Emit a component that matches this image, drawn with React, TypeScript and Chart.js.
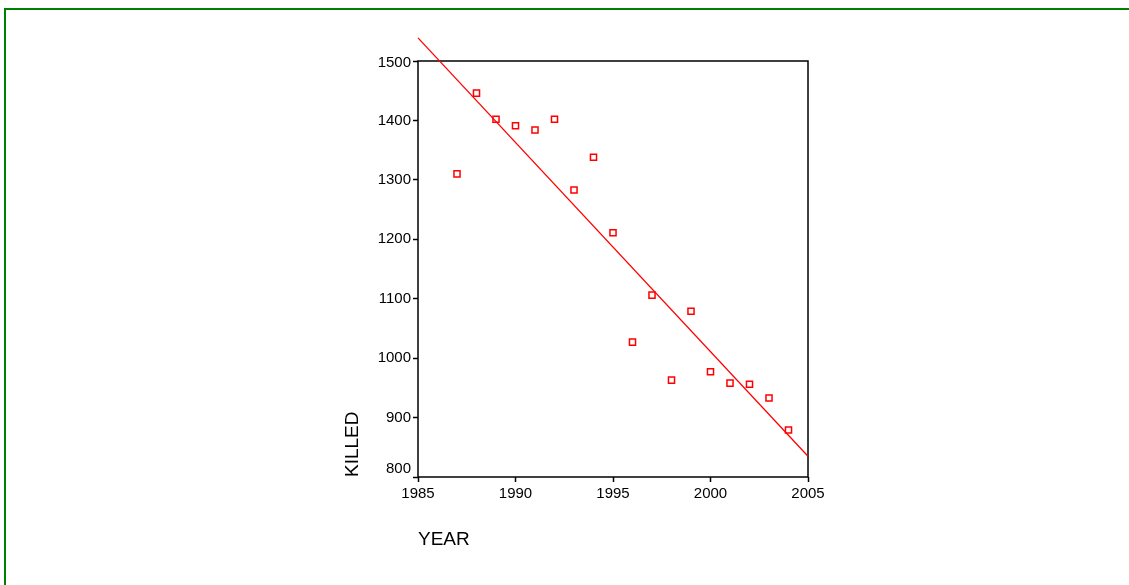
import React, { useEffect, useRef } from "react";
import { Chart, registerables } from "chart.js";

Chart.register(...registerables);

// Road deaths per year and the fitted trend line
const years = [1987, 1988, 1989, 1990, 1991, 1992, 1993, 1994, 1995, 1996, 1997, 1998, 1999, 2000, 2001, 2002, 2003, 2004];
const killed = [1310, 1446, 1402, 1391, 1384, 1402, 1283, 1338, 1211, 1027, 1106, 963, 1079, 977, 958, 956, 933, 879];
const fitYears = [1985, 2005];
const fitKilled = [1539, 835];

const xTicks = [1985, 1990, 1995, 2000, 2005];
const yTicks = [800, 900, 1000, 1100, 1200, 1300, 1400, 1500];

const W = 1129;
const H = 585;
const FONT = "'Liberation Sans', Arial, sans-serif";
const RED = "#ff0000";

// Frame around the plotting area
const frame = {
  id: "frame",
  beforeDatasetsDraw(chart: any) {
    const { ctx, chartArea } = chart;
    ctx.save();
    ctx.strokeStyle = "#000";
    ctx.lineWidth = 1.5;
    ctx.strokeRect(chartArea.left, chartArea.top, chartArea.right - chartArea.left, chartArea.bottom - chartArea.top);
    ctx.restore();
  },
};

// Keep the end labels of the value axis inside the axis span
const nudgeEndLabels = {
  id: "nudgeEndLabels",
  beforeDraw(chart: any) {
    const y = chart.scales.y;
    const items = y.getLabelItems(chart.chartArea);
    if (!items || !items.length) return;
    const first = items[0].options.translation;
    items[0].options.translation = [first[0], first[1] - 8];
    const lastItem = items[items.length - 1];
    const last = lastItem.options.translation;
    lastItem.options.translation = [last[0], last[1] + 2];
  },
};

export default function App() {
  const ref = useRef<HTMLCanvasElement>(null);

  useEffect(() => {
    document.body.style.margin = "0";
    const chart = new Chart(ref.current!, {
      type: "scatter",
      data: {
        datasets: [
          {
            label: "Fit",
            data: fitYears.map((x, i) => ({ x, y: fitKilled[i] })),
            showLine: true,
            borderColor: RED,
            borderWidth: 1.3,
            pointRadius: 0,
            clip: false as any,
          },
          {
            label: "KILLED",
            data: years.map((x, i) => ({ x, y: killed[i] })),
            pointStyle: "rect",
            pointRadius: 4.3,
            borderColor: RED,
            borderWidth: 1.5,
            backgroundColor: "rgba(255,255,255,0)",
          },
        ],
      },
      options: {
        responsive: false,
        animation: false,
        layout: { padding: { left: 337, top: 61, right: W - 808, bottom: 29.6 } },
        plugins: { legend: { display: false }, tooltip: { enabled: false } },
        scales: {
          x: {
            type: "linear",
            min: 1985,
            max: 2005,
            afterBuildTicks: (s: any) => {
              s.ticks = xTicks.map((v) => ({ value: v }));
            },
            afterFit: (s: any) => {
              s.height = 78.4;
            },
            grid: { drawOnChartArea: false, drawTicks: true, tickLength: 5, color: "#000", tickWidth: 1.5 },
            border: { display: false },
            ticks: {
              color: "#000",
              padding: 3,
              font: { family: FONT, size: 15 },
              callback: (v: any) => String(v),
            },
            title: {
              display: true,
              text: "YEAR",
              align: "start",
              color: "#000",
              font: { family: FONT, size: 19 },
            },
          },
          y: {
            type: "linear",
            min: 800,
            max: 1500,
            afterBuildTicks: (s: any) => {
              s.ticks = yTicks.map((v) => ({ value: v }));
            },
            afterFit: (s: any) => {
              s.width = 81;
            },
            grid: { drawOnChartArea: false, drawTicks: true, tickLength: 5, color: "#000", tickWidth: 1.5 },
            border: { display: false },
            ticks: {
              color: "#000",
              padding: 2,
              font: { family: FONT, size: 15 },
              callback: (v: any) => String(v),
            },
            title: {
              display: true,
              text: "KILLED",
              align: "start",
              color: "#000",
              font: { family: FONT, size: 19 },
            },
          },
        },
      },
      plugins: [frame, nudgeEndLabels],
    });
    return () => chart.destroy();
  }, []);

  return (
    <div style={{ position: "relative", width: W, height: H, background: "#fff", overflow: "hidden" }}>
      <div
        style={{
          position: "absolute",
          left: 4,
          top: 8,
          width: W - 4,
          height: H - 8,
          borderTop: "2px solid #008000",
          borderLeft: "2px solid #008000",
          boxSizing: "border-box",
        }}
      />
      <canvas ref={ref} width={W} height={H} style={{ position: "absolute", left: 0, top: 0 }} />
    </div>
  );
}
